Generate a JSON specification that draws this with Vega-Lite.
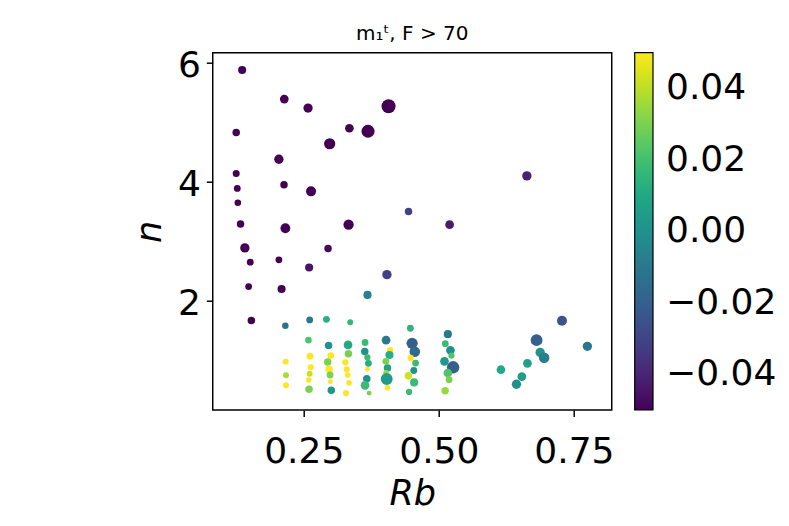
{
  "$schema": "https://vega.github.io/schema/vega-lite/v6.json",
  "autosize": {"type": "none"},
  "padding": {"left": 212.7, "top": 52.7, "right": 177.3, "bottom": 116},
  "width": 399,
  "height": 357.3,
  "background": "white",
  "title": {
    "text": "m₁ᵗ, F > 70",
    "font": "DejaVu Sans",
    "fontSize": 20,
    "fontWeight": "normal",
    "color": "black",
    "anchor": "middle",
    "frame": "group",
    "baseline": "alphabetic",
    "offset": -13
  },
  "config": {
    "view": {"stroke": "black", "strokeWidth": 1.46},
    "axis": {
      "grid": false,
      "domain": false,
      "tickColor": "black",
      "tickWidth": 1.46,
      "tickSize": 6.4,
      "labelFont": "DejaVu Sans",
      "labelFontSize": 36,
      "labelColor": "black",
      "titleFont": "DejaVu Sans",
      "titleFontSize": 35,
      "titleFontStyle": "italic",
      "titleFontWeight": "normal",
      "titleColor": "black"
    },
    "legend": {
      "labelFont": "DejaVu Sans",
      "labelFontSize": 36,
      "labelColor": "black"
    }
  },
  "data": {
    "values": [
      {"Rb": 0.136, "n": 5.87, "s": 8.7, "c": -0.05},
      {"Rb": 0.214, "n": 5.38, "s": 9.3, "c": -0.05},
      {"Rb": 0.258, "n": 5.23, "s": 10, "c": -0.05},
      {"Rb": 0.407, "n": 5.26, "s": 15, "c": -0.05},
      {"Rb": 0.125, "n": 4.82, "s": 8, "c": -0.05},
      {"Rb": 0.3345, "n": 4.89, "s": 9.3, "c": -0.05},
      {"Rb": 0.369, "n": 4.84, "s": 14, "c": -0.05},
      {"Rb": 0.298, "n": 4.63, "s": 12, "c": -0.05},
      {"Rb": 0.204, "n": 4.37, "s": 10, "c": -0.05},
      {"Rb": 0.125, "n": 4.13, "s": 7.5, "c": -0.05},
      {"Rb": 0.2135, "n": 3.94, "s": 8, "c": -0.05},
      {"Rb": 0.2635, "n": 3.83, "s": 10.7, "c": -0.05},
      {"Rb": 0.663, "n": 4.09, "s": 10, "c": -0.041},
      {"Rb": 0.127, "n": 3.88, "s": 7.3, "c": -0.05},
      {"Rb": 0.128, "n": 3.64, "s": 7, "c": -0.05},
      {"Rb": 0.444, "n": 3.49, "s": 8, "c": -0.031},
      {"Rb": 0.133, "n": 3.28, "s": 8, "c": -0.05},
      {"Rb": 0.216, "n": 3.21, "s": 10.5, "c": -0.05},
      {"Rb": 0.333, "n": 3.27, "s": 11, "c": -0.05},
      {"Rb": 0.52, "n": 3.27, "s": 9.3, "c": -0.043},
      {"Rb": 0.141, "n": 2.88, "s": 10, "c": -0.05},
      {"Rb": 0.295, "n": 2.87, "s": 8, "c": -0.048},
      {"Rb": 0.151, "n": 2.64, "s": 7.3, "c": -0.05},
      {"Rb": 0.204, "n": 2.68, "s": 7.3, "c": -0.05},
      {"Rb": 0.26, "n": 2.55, "s": 8.7, "c": -0.045},
      {"Rb": 0.404, "n": 2.43, "s": 10, "c": -0.032},
      {"Rb": 0.148, "n": 2.23, "s": 7.3, "c": -0.05},
      {"Rb": 0.209, "n": 2.19, "s": 8.7, "c": -0.05},
      {"Rb": 0.368, "n": 2.09, "s": 8.7, "c": -0.007},
      {"Rb": 0.153, "n": 1.66, "s": 8, "c": -0.05},
      {"Rb": 0.216, "n": 1.57, "s": 7, "c": -0.013},
      {"Rb": 0.2166, "n": 0.967, "s": 6.5, "c": 0.05},
      {"Rb": 0.2172, "n": 0.739, "s": 6.3, "c": 0.037},
      {"Rb": 0.2172, "n": 0.571, "s": 6.3, "c": 0.05},
      {"Rb": 0.261, "n": 1.67, "s": 7.3, "c": -0.01},
      {"Rb": 0.2587, "n": 1.33, "s": 7, "c": 0.022},
      {"Rb": 0.2617, "n": 1.06, "s": 7.3, "c": 0.05},
      {"Rb": 0.263, "n": 0.873, "s": 6.7, "c": 0.05},
      {"Rb": 0.261, "n": 0.766, "s": 6.3, "c": 0.042},
      {"Rb": 0.2593, "n": 0.66, "s": 6, "c": 0.05},
      {"Rb": 0.2598, "n": 0.504, "s": 8, "c": 0.03},
      {"Rb": 0.292, "n": 1.68, "s": 7.3, "c": 0.013},
      {"Rb": 0.296, "n": 1.24, "s": 8, "c": 0.0},
      {"Rb": 0.3, "n": 1.07, "s": 7.3, "c": 0.05},
      {"Rb": 0.2944, "n": 0.962, "s": 8, "c": 0.03},
      {"Rb": 0.2969, "n": 0.84, "s": 8, "c": 0.05},
      {"Rb": 0.2987, "n": 0.744, "s": 7.3, "c": 0.03},
      {"Rb": 0.2993, "n": 0.63, "s": 5.3, "c": 0.05},
      {"Rb": 0.301, "n": 0.487, "s": 8, "c": 0.002},
      {"Rb": 0.336, "n": 1.63, "s": 6.3, "c": 0.016},
      {"Rb": 0.332, "n": 1.25, "s": 9.3, "c": 0.01},
      {"Rb": 0.3327, "n": 1.1, "s": 8, "c": 0.03},
      {"Rb": 0.327, "n": 0.957, "s": 6.7, "c": 0.05},
      {"Rb": 0.3296, "n": 0.84, "s": 6.7, "c": 0.05},
      {"Rb": 0.3315, "n": 0.744, "s": 6, "c": 0.05},
      {"Rb": 0.334, "n": 0.615, "s": 6, "c": 0.05},
      {"Rb": 0.3283, "n": 0.44, "s": 6.7, "c": 0.05},
      {"Rb": 0.3635, "n": 1.29, "s": 7.3, "c": 0.018},
      {"Rb": 0.363, "n": 1.14, "s": 8, "c": 0.0},
      {"Rb": 0.3678, "n": 1.04, "s": 6.7, "c": 0.018},
      {"Rb": 0.3697, "n": 0.94, "s": 7.3, "c": 0.012},
      {"Rb": 0.3678, "n": 0.84, "s": 5.3, "c": 0.05},
      {"Rb": 0.3667, "n": 0.68, "s": 8, "c": 0.0},
      {"Rb": 0.3635, "n": 0.57, "s": 9.3, "c": 0.018},
      {"Rb": 0.371, "n": 0.44, "s": 5.3, "c": 0.03},
      {"Rb": 0.4024, "n": 1.33, "s": 9.3, "c": -0.01},
      {"Rb": 0.4098, "n": 1.164, "s": 6.7, "c": 0.05},
      {"Rb": 0.4086, "n": 1.08, "s": 8.7, "c": 0.012},
      {"Rb": 0.402, "n": 0.974, "s": 7.3, "c": 0.03},
      {"Rb": 0.405, "n": 0.86, "s": 8, "c": 0.008},
      {"Rb": 0.4024, "n": 0.78, "s": 6, "c": 0.035},
      {"Rb": 0.4036, "n": 0.677, "s": 12.7, "c": 0.005},
      {"Rb": 0.405, "n": 0.53, "s": 6, "c": 0.05},
      {"Rb": 0.4474, "n": 1.53, "s": 7.3, "c": 0.015},
      {"Rb": 0.4506, "n": 1.276, "s": 12, "c": -0.02},
      {"Rb": 0.4555, "n": 1.136, "s": 11.3, "c": -0.016},
      {"Rb": 0.448, "n": 1.03, "s": 6.7, "c": 0.05},
      {"Rb": 0.457, "n": 0.945, "s": 7.3, "c": 0.018},
      {"Rb": 0.4537, "n": 0.82, "s": 7.3, "c": 0.0},
      {"Rb": 0.4438, "n": 0.73, "s": 8, "c": 0.043},
      {"Rb": 0.4543, "n": 0.62, "s": 8.7, "c": 0.018},
      {"Rb": 0.445, "n": 0.46, "s": 6.7, "c": 0.018},
      {"Rb": 0.5167, "n": 1.43, "s": 8.7, "c": -0.01},
      {"Rb": 0.512, "n": 1.27, "s": 7.3, "c": 0.018},
      {"Rb": 0.5215, "n": 1.16, "s": 9.3, "c": 0.0},
      {"Rb": 0.5234, "n": 1.07, "s": 6.7, "c": 0.022},
      {"Rb": 0.5105, "n": 0.974, "s": 9.3, "c": 0.003},
      {"Rb": 0.5265, "n": 0.873, "s": 13.3, "c": -0.02},
      {"Rb": 0.5167, "n": 0.777, "s": 9.3, "c": 0.022},
      {"Rb": 0.519, "n": 0.665, "s": 7.3, "c": 0.03},
      {"Rb": 0.5117, "n": 0.48, "s": 8, "c": 0.035},
      {"Rb": 0.728, "n": 1.656, "s": 10.7, "c": -0.025},
      {"Rb": 0.681, "n": 1.33, "s": 12.7, "c": -0.02},
      {"Rb": 0.775, "n": 1.226, "s": 10, "c": -0.011},
      {"Rb": 0.6876, "n": 1.125, "s": 10, "c": 0.001},
      {"Rb": 0.695, "n": 1.035, "s": 11.3, "c": -0.008},
      {"Rb": 0.664, "n": 0.94, "s": 9.3, "c": 0.007},
      {"Rb": 0.615, "n": 0.833, "s": 9.3, "c": 0.01},
      {"Rb": 0.6537, "n": 0.716, "s": 9.3, "c": 0.005},
      {"Rb": 0.6437, "n": 0.588, "s": 10, "c": 0.0}
    ]
  },
  "mark": {"type": "circle", "opacity": 1},
  "encoding": {
    "x": {
      "field": "Rb",
      "type": "quantitative",
      "scale": {"domain": [0.0815, 0.82], "nice": false, "zero": false},
      "axis": {
        "title": "Rb",
        "values": [0.25, 0.5, 0.75],
        "format": ".2f",
        "labelPadding": 18,
        "titlePadding": 7
      }
    },
    "y": {
      "field": "n",
      "type": "quantitative",
      "scale": {"domain": [0.156, 6.16], "nice": false, "zero": false},
      "axis": {
        "title": "n",
        "values": [2, 4, 6],
        "format": "d",
        "labelPadding": 6,
        "labelOffset": 3,
        "titlePadding": 10
      }
    },
    "color": {
      "field": "c",
      "type": "quantitative",
      "scale": {"scheme": "viridis", "domain": [-0.05, 0.05], "clamp": true},
      "legend": {
        "title": null,
        "orient": "right",
        "offset": 23,
        "padding": 0,
        "gradientLength": 357.3,
        "gradientThickness": 18.3,
        "gradientStrokeColor": "black",
        "gradientStrokeWidth": 1.2,
        "values": [-0.04, -0.02, 0, 0.02, 0.04],
        "labelExpr": "replace(format(datum.value, '.2f'), '-', '−')",
        "labelOffset": 13,
        "labelOverlap": false
      }
    },
    "size": {
      "field": "s",
      "type": "quantitative",
      "scale": {"type": "pow", "exponent": 2, "domain": [0, 15], "range": [0, 196]},
      "legend": null
    }
  }
}
